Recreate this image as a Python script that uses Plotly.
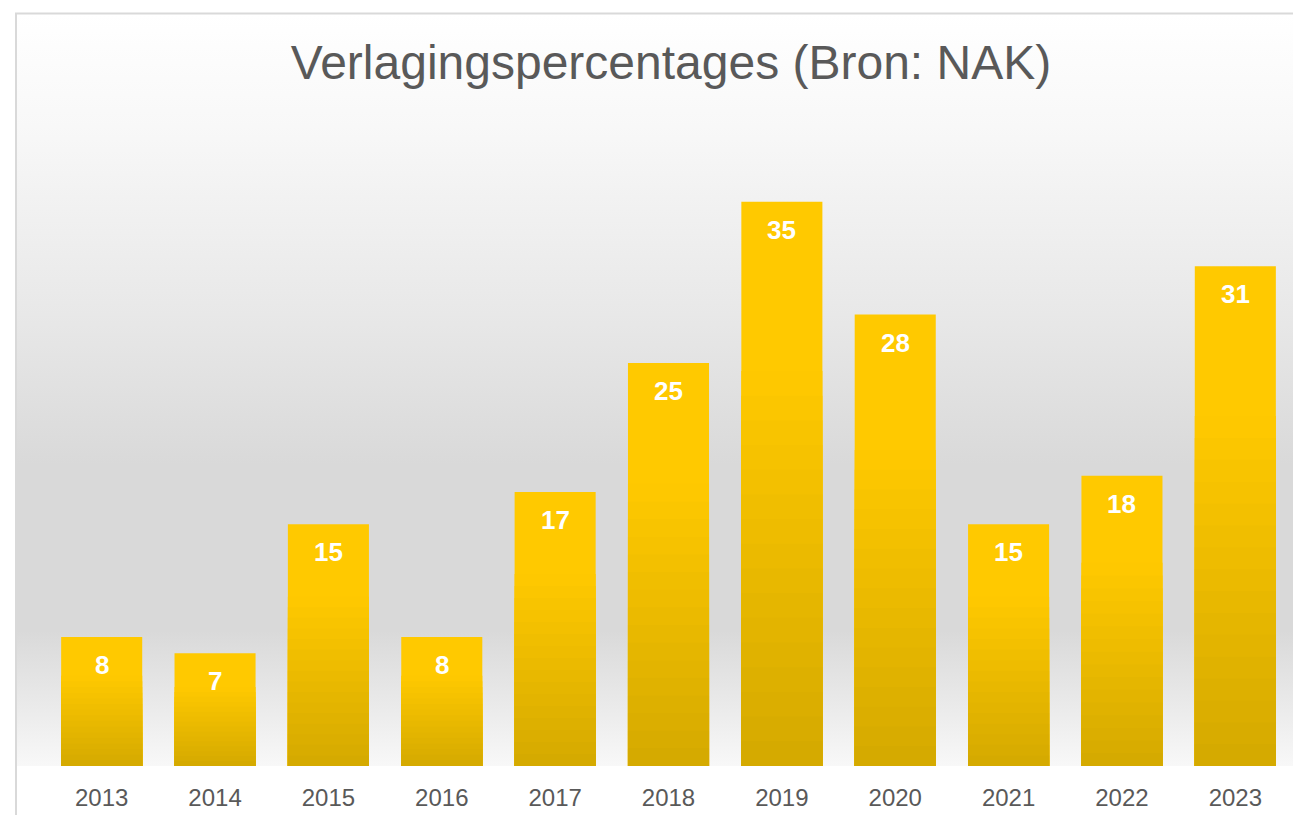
import base64

import plotly.graph_objects as go

# --- data -------------------------------------------------------------
years = ["2013", "2014", "2015", "2016", "2017", "2018",
         "2019", "2020", "2021", "2022", "2023"]
percentages = [8, 7, 15, 8, 17, 25, 35, 28, 15, 18, 31]

title_text = "Verlagingspercentages (Bron: NAK)"

# --- styling ----------------------------------------------------------
W, H = 1301, 815
M_L, M_R, M_T, M_B = 37, 17, 113, 54
PLOT_W = W - M_L - M_R
PLOT_H = H - M_T - M_B
FONT = "Liberation Sans, Arial, sans-serif"
GREY_TEXT = "#595959"

BAR_TOP = (255, 201, 0)
BAR_BOTTOM = (212, 169, 0)


def mix(c1, c2, t):
    return "rgb({},{},{})".format(*[round(a + (b - a) * t) for a, b in zip(c1, c2)])


def bg_gradient_uri():
    svg = (
        '<svg xmlns="http://www.w3.org/2000/svg" width="100" height="100" '
        'preserveAspectRatio="none"><defs><linearGradient id="g" x1="0" y1="0" x2="0" y2="1">'
        '<stop offset="0" stop-color="#ffffff"/>'
        '<stop offset="0.15" stop-color="#f8f8f8"/>'
        '<stop offset="0.40" stop-color="#e8e8e8"/>'
        '<stop offset="0.60" stop-color="#d9d9d9"/>'
        '<stop offset="0.82" stop-color="#d9d9d9"/>'
        '<stop offset="0.92" stop-color="#eaeaea"/>'
        '<stop offset="1" stop-color="#f8f8f8"/>'
        '</linearGradient></defs><rect width="100" height="100" fill="url(#g)"/></svg>'
    )
    return "data:image/svg+xml;base64," + base64.b64encode(svg.encode()).decode()


def px_to_paper_x(px):
    return (px - M_L) / PLOT_W


def px_to_paper_y(py):
    return (H - M_B - py) / PLOT_H


fig = go.Figure()

# full bar in the bright top colour
fig.add_trace(go.Bar(
    x=years, y=percentages,
    marker=dict(color=mix(BAR_TOP, BAR_TOP, 0), line=dict(width=0)),
    hovertemplate="%{x}: %{y}<extra></extra>",
))

# darker bands overlaid from the bottom to fake the vertical gradient
n_bands = 16
start = 0.30
for k in range(n_bands):
    f = start + (1 - start) * k / n_bands
    t = (f - start) / (1 - start)
    fig.add_trace(go.Bar(
        x=years, y=[v * (1 - f) for v in percentages],
        marker=dict(color=mix(BAR_TOP, BAR_BOTTOM, t + 0.5 / n_bands), line=dict(width=0)),
        hoverinfo="skip",
    ))

# value labels near the top of each bar (category axis -> use the index)
for i, v in enumerate(percentages):
    fig.add_annotation(
        x=i, y=v, text=str(v), showarrow=False,
        yanchor="middle", yshift=-28,
        font=dict(family=FONT, size=26, color="white", weight="bold"),
    )

fig.update_layout(
    width=W, height=H,
    margin=dict(l=M_L, r=M_R, t=M_T, b=M_B),
    barmode="overlay",
    bargap=0.285,
    showlegend=False,
    paper_bgcolor="white",
    plot_bgcolor="rgba(0,0,0,0)",
    font=dict(family=FONT, color=GREY_TEXT),
    title=dict(
        text=title_text, x=px_to_paper_x(663), xref="paper", xanchor="center",
        y=1 - 54 / H, yref="container", yanchor="middle",
        font=dict(family=FONT, size=48, color=GREY_TEXT),
    ),
    xaxis=dict(
        type="category",
        showgrid=False, zeroline=False, showline=False,
        ticks="outside", ticklen=10, tickcolor="rgba(0,0,0,0)",
        tickfont=dict(family=FONT, size=24, color=GREY_TEXT),
    ),
    yaxis=dict(range=[0, 40], visible=False, showgrid=False, zeroline=False),
    images=[dict(
        source=bg_gradient_uri(), xref="paper", yref="paper",
        x=px_to_paper_x(8), y=px_to_paper_y(5),
        sizex=(W - 8) / PLOT_W, sizey=(H - M_B - 5) / PLOT_H,
        xanchor="left", yanchor="top", sizing="stretch", layer="below",
    )],
    shapes=[dict(
        type="rect", xref="paper", yref="paper",
        x0=px_to_paper_x(8), x1=px_to_paper_x(W + 4),
        y0=px_to_paper_y(H + 4), y1=px_to_paper_y(5),
        line=dict(color="#d9d9d9", width=2), layer="above",
    )],
)

fig.write_html("out.html")
